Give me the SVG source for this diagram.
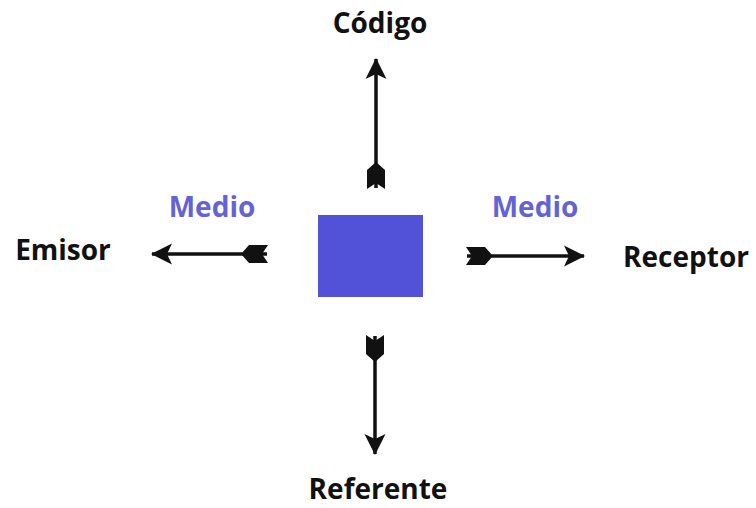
<svg xmlns="http://www.w3.org/2000/svg" width="756" height="508" viewBox="0 0 756 508">
<style>
.lbl{font-family:"Open Sans","Liberation Sans",sans-serif;font-weight:bold;font-size:28px;fill:#111;text-anchor:middle}
.med{font-family:"Open Sans","Liberation Sans",sans-serif;font-weight:bold;font-size:28px;fill:#6363d6;text-anchor:middle}
.shaft{stroke:#111;stroke-width:3.5;fill:none;marker-start:url(#fletch);marker-end:url(#head)}
</style>
<defs>
<marker id="head" markerUnits="userSpaceOnUse" viewBox="0 0 24 24" markerWidth="24" markerHeight="24" refX="22" refY="12" orient="auto">
<path d="M23,12 L2,1.5 L7,12 L2,22.5 Z" fill="#111"/>
</marker>
<marker id="fletch" markerUnits="userSpaceOnUse" viewBox="0 0 28 22" markerWidth="28" markerHeight="22" refX="1" refY="11" orient="auto">
<path d="M0,2 L19,2 L27,11 L19,20 L0,20 L6,11 Z" fill="#111"/>
</marker>
</defs>
<g id="center"><rect x="318" y="215" width="105" height="82" fill="#5252d8"/></g>
<g id="connectors">
<line class="shaft" x1="376" y1="188" x2="376" y2="59"/>
<line class="shaft" x1="267" y1="254" x2="152" y2="254"/>
<line class="shaft" x1="467" y1="256" x2="584" y2="256"/>
<line class="shaft" x1="375" y1="336" x2="375" y2="454"/>
</g>
<g id="codigo"><text class="lbl" x="380" y="33">Código</text></g>
<g id="emisor"><text class="lbl" x="63" y="260">Emisor</text></g>
<g id="receptor"><text class="lbl" x="686" y="267">Receptor</text></g>
<g id="referente"><text class="lbl" x="378" y="499">Referente</text></g>
<g id="medio-left"><text class="med" x="212" y="217">Medio</text></g>
<g id="medio-right"><text class="med" x="535" y="217">Medio</text></g>
</svg>
